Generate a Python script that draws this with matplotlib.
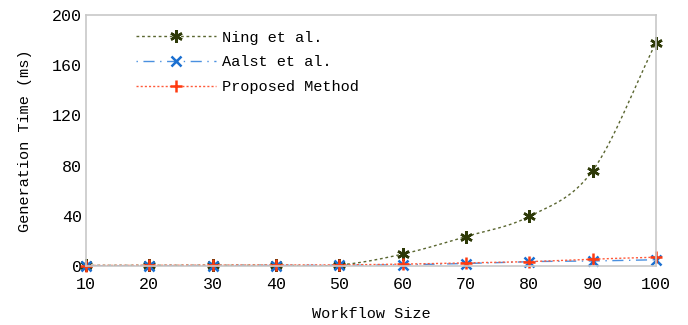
import numpy as np
import matplotlib.pyplot as plt

# workflow sizes and generation times (ms)
sizes = [10, 20, 30, 40, 50, 60, 70, 80, 90, 100]
ning = [0.5, 0.5, 0.5, 0.6, 0.8, 9.5, 23.5, 39.5, 76, 178]
aalst = [0.2, 0.3, 0.3, 0.4, 0.5, 1.0, 2.0, 3.5, 4.0, 5.0]
proposed = [0.4, 0.5, 0.6, 0.7, 0.9, 1.5, 2.5, 3.5, 5.5, 7.0]


def smooth(x, y, n=30):
    # Catmull-Rom curve through the points
    x = np.asarray(x, float)
    y = np.asarray(y, float)
    px = np.concatenate([[2 * x[0] - x[1]], x, [2 * x[-1] - x[-2]]])
    py = np.concatenate([[2 * y[0] - y[1]], y, [2 * y[-1] - y[-2]]])
    xs, ys = [], []
    t = np.linspace(0, 1, n)
    for i in range(1, len(px) - 2):
        for p, out in ((px, xs), (py, ys)):
            p0, p1, p2, p3 = p[i - 1], p[i], p[i + 1], p[i + 2]
            out.append(0.5 * (2 * p1 + (-p0 + p2) * t
                              + (2 * p0 - 5 * p1 + 4 * p2 - p3) * t ** 2
                              + (-p0 + 3 * p1 - 3 * p2 + p3) * t ** 3))
    return np.concatenate(xs), np.concatenate(ys)


plt.rcParams['font.family'] = ['Liberation Mono', 'DejaVu Sans Mono']
plt.rcParams['font.size'] = 11

fig = plt.figure(figsize=(6.88, 3.25), dpi=100)
ax = fig.add_axes([0.125, 0.1815, 0.8285, 0.7725])

asterisk = (6, 2, 0)
series = [
    (ning, 'Ning et al.', '#5a6630', '#2e3a08', asterisk, (0, (2, 2)), 9),
    (aalst, 'Aalst et al.', '#4a90e0', '#1a6fd0', 'x', (0, (1, 4, 8, 4)), 7),
    (proposed, 'Proposed Method', '#ff5a3a', '#ff3a10', '+', (0, (1.5, 1.5)), 9),
]

for vals, label, lc, mc, mk, ls, ms in series:
    sx, sy = smooth(sizes, vals)
    ax.plot(sx, sy, color=lc, linestyle=ls, linewidth=1.0)
    ax.plot(sizes, vals, linestyle='none', marker=mk, color=mc,
            markersize=ms, markeredgewidth=1.8, clip_on=False)
    ax.plot([], [], color=lc, linestyle=ls, linewidth=1.0, marker=mk,
            markersize=ms, markeredgewidth=1.8, markeredgecolor=mc,
            label=label)

ax.set_xlim(10, 100)
ax.set_ylim(0, 200)
ax.set_xticks(sizes)
ax.set_yticks([0, 40, 80, 120, 160, 200])
ax.tick_params(axis='x', length=0, labelsize=12, pad=8)
ax.tick_params(axis='y', length=0, labelsize=12, pad=3)
for s in ax.spines.values():
    s.set_color('#c8c8c8')
    s.set_linewidth(1.2)

ax.set_xlabel('Workflow Size', labelpad=11)
ax.set_ylabel('Generation Time (ms)', labelpad=14)

ax.legend(loc='upper left', frameon=False, handlelength=5.2,
          bbox_to_anchor=(0.088, 0.937), borderaxespad=0, borderpad=0,
          labelspacing=0.7, handletextpad=0.4, numpoints=1)

fig.savefig('out.png', dpi=100)
